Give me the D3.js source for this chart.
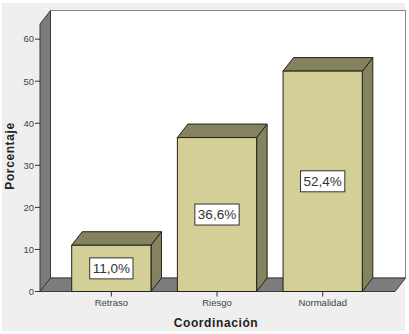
<!DOCTYPE html>
<html>
<head>
<meta charset="utf-8">
<script src="https://cdn.jsdelivr.net/npm/d3@7"></script>
<style>
  body { margin: 0; background: #ffffff; }
  text { font-family: "Liberation Sans", Arial, sans-serif; }
</style>
</head>
<body>
<div id="chart"></div>
<script>
// Data
const categories = ["Retraso", "Riesgo", "Normalidad"];
const percentages = [11.0, 36.6, 52.4];
const valueLabels = ["11,0%", "36,6%", "52,4%"];
const yTicks = [0, 10, 20, 30, 40, 50, 60];

const W = 409, H = 334;
// front plane of the 3d box
const frontLeft = 40, frontRight = 395;
const frontBottom = 291.5, frontTop = 24;
// depth offset of the 3d effect
const dx = 10.5, dy = -13.5;

const svg = d3.select("#chart").append("svg")
    .attr("width", W)
    .attr("height", H);

// panel background
svg.append("rect")
    .attr("x", 2).attr("y", 3)
    .attr("width", 403).attr("height", 328)
    .attr("fill", "#efefef");

const y = d3.scaleLinear().domain([0, 63.6]).range([frontBottom, frontTop]);
const x = d3.scaleBand()
    .domain(categories)
    .range([frontLeft, frontRight - 1])
    .paddingInner(0.25)
    .paddingOuter(0.3);

const line = d3.line();

// back wall
svg.append("rect")
    .attr("x", frontLeft + dx).attr("y", frontTop + dy)
    .attr("width", frontRight - frontLeft).attr("height", frontBottom - frontTop)
    .attr("fill", "#ffffff")
    .attr("stroke", "#8a8a8a")
    .attr("stroke-width", 1);

// left wall
svg.append("path")
    .attr("d", line([[frontLeft, frontTop], [frontLeft + dx, frontTop + dy],
        [frontLeft + dx, frontBottom + dy], [frontLeft, frontBottom]]) + "Z")
    .attr("fill", "#7c7c7c")
    .attr("stroke", "#3a3a3a");

// floor
svg.append("path")
    .attr("d", line([[frontLeft, frontBottom], [frontLeft + dx, frontBottom + dy],
        [frontRight + dx, frontBottom + dy], [frontRight, frontBottom]]) + "Z")
    .attr("fill", "#7c7c7c")
    .attr("stroke", "#3a3a3a");

// bars
const data = categories.map((c, i) => ({ cat: c, value: percentages[i], label: valueLabels[i] }));

const bars = svg.selectAll(".bar")
    .data(data)
    .enter()
    .append("g")
    .attr("class", "bar");

// side face
bars.append("path")
    .attr("d", d => {
        const x1 = x(d.cat) + x.bandwidth();
        return line([[x1, y(d.value)], [x1 + dx, y(d.value) + dy],
            [x1 + dx, y(0) + dy], [x1, y(0)]]) + "Z";
    })
    .attr("fill", "#858260")
    .attr("stroke", "#22221a");

// top face
bars.append("path")
    .attr("d", d => {
        const x0 = x(d.cat), x1 = x0 + x.bandwidth();
        return line([[x0, y(d.value)], [x0 + dx, y(d.value) + dy],
            [x1 + dx, y(d.value) + dy], [x1, y(d.value)]]) + "Z";
    })
    .attr("fill", "#858260")
    .attr("stroke", "#22221a");

// front face
bars.append("rect")
    .attr("x", d => x(d.cat))
    .attr("y", d => y(d.value))
    .attr("width", x.bandwidth())
    .attr("height", d => y(0) - y(d.value))
    .attr("fill", "#d3cf97")
    .attr("stroke", "#22221a");

// value labels in boxes
const labelGroups = bars.append("g")
    .attr("transform", d => `translate(${x(d.cat) + x.bandwidth() / 2},${(y(d.value) + y(0)) / 2})`);

const labelBoxes = labelGroups.append("rect")
    .attr("fill", "#ffffff")
    .attr("stroke", "#333333");

const labelTexts = labelGroups.append("text")
    .attr("text-anchor", "middle")
    .attr("dy", "0.36em")
    .style("font-size", "13.5px")
    .attr("fill", "#333333")
    .text(d => d.label);

labelTexts.each(function () {
    const w = this.getComputedTextLength() + 6;
    d3.select(this.parentNode).select("rect")
        .attr("x", -w / 2).attr("y", -10.5)
        .attr("width", w).attr("height", 21);
});

// y axis ticks
const yAxis = svg.append("g");
yAxis.selectAll("line")
    .data(yTicks)
    .enter()
    .append("line")
    .attr("x1", frontLeft - 5).attr("x2", frontLeft)
    .attr("y1", d => y(d)).attr("y2", d => y(d))
    .attr("stroke", "#333333");
yAxis.selectAll("text")
    .data(yTicks)
    .enter()
    .append("text")
    .attr("x", frontLeft - 6)
    .attr("y", d => y(d))
    .attr("dy", "0.35em")
    .attr("text-anchor", "end")
    .style("font-size", "9.5px")
    .attr("fill", "#444444")
    .text(d => d);

// x axis ticks
const xAxis = svg.append("g");
xAxis.selectAll("line")
    .data(categories)
    .enter()
    .append("line")
    .attr("x1", d => x(d) + x.bandwidth() / 2)
    .attr("x2", d => x(d) + x.bandwidth() / 2)
    .attr("y1", frontBottom).attr("y2", frontBottom + 5)
    .attr("stroke", "#333333");
xAxis.selectAll("text")
    .data(categories)
    .enter()
    .append("text")
    .attr("x", d => x(d) + x.bandwidth() / 2)
    .attr("y", 306)
    .attr("text-anchor", "middle")
    .style("font-size", "9.5px")
    .attr("fill", "#444444")
    .text(d => d);

// axis titles
svg.append("text")
    .attr("transform", "translate(14,156) rotate(-90)")
    .attr("text-anchor", "middle")
    .style("font-size", "12px")
    .style("font-weight", "bold")
    .style("letter-spacing", "0.6px")
    .attr("fill", "#222222")
    .text("Porcentaje");

svg.append("text")
    .attr("x", 216)
    .attr("y", 327)
    .attr("text-anchor", "middle")
    .style("font-size", "12px")
    .style("font-weight", "bold")
    .style("letter-spacing", "0.6px")
    .attr("fill", "#222222")
    .text("Coordinación");
</script>
</body>
</html>
